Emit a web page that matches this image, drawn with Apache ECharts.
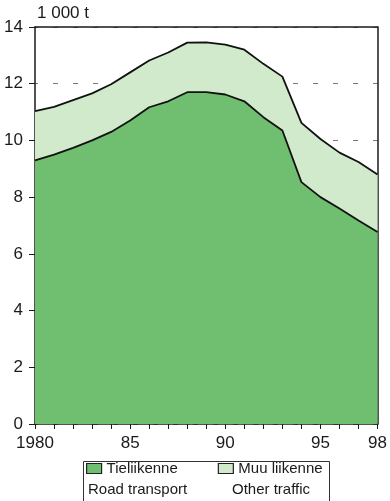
<!DOCTYPE html>
<html>
<head>
<meta charset="utf-8">
<script src="https://cdn.jsdelivr.net/npm/echarts@6/dist/echarts.min.js"></script>
<style>
html,body{margin:0;padding:0;background:#fff;}
#chart{width:390px;height:501px;}
</style>
</head>
<body>
<div id="chart"></div>
<script>
var years = ['1980','1981','1982','1983','1984','1985','1986','1987','1988','1989','1990','1991','1992','1993','1994','1995','1996','1997','1998'];
var roadTransport = [9.3,9.5,9.74,10.0,10.3,10.7,11.17,11.38,11.7,11.7,11.62,11.38,10.82,10.35,8.53,8.0,7.6,7.18,6.77];
var otherTraffic = [1.73,1.68,1.68,1.66,1.68,1.7,1.65,1.72,1.75,1.76,1.76,1.82,1.88,1.9,2.09,2.05,1.97,2.06,2.03];
var yTicks = [0,2,4,6,8,10,12,14];
var xLabelYears = ['1980','1985','1990','1995','1998'];
var xLabelTexts = ['1980','85','90','95','98'];
var seriesNames = ['Tieliikenne','Muu liikenne'];
var seriesNamesEn = ['Road transport','Other traffic'];
var unitLabel = '1 000 t';

var FONT = '"Liberation Sans", Arial, Helvetica, sans-serif';
var ROAD_COLOR = '#70be6f';
var OTHER_COLOR = '#d1eacb';

var chart = echarts.init(document.getElementById('chart'), null, {renderer:'canvas'});
chart.setOption({
  animation:false,
  backgroundColor:'#fff',
  grid:{left:35, right:9, top:27, bottom:77, containLabel:false},
  xAxis:[{
    type:'category', data:years, boundaryGap:false,
    axisLine:{show:true, onZero:false, lineStyle:{color:'#1a1a1a', width:1.5}},
    axisTick:{show:true, inside:false, length:5, interval:0, lineStyle:{color:'#1a1a1a', width:1}},
    axisLabel:{
      margin:11, color:'#1a1a1a', fontSize:17, fontFamily:FONT,
      interval:function(i, v){ return xLabelYears.indexOf(v) >= 0; },
      formatter:function(v){ var k = xLabelYears.indexOf(v); return k>=0 ? xLabelTexts[k] : ''; }
    },
    splitLine:{show:false}
  },{
    type:'category', data:years, boundaryGap:false, position:'top',
    axisLine:{show:true, onZero:false, lineStyle:{color:'#1a1a1a', width:1.5}},
    axisTick:{show:false}, axisLabel:{show:false}, splitLine:{show:false}
  }],
  yAxis:[{
    type:'value', min:0, max:14, interval:2,
    name:unitLabel, nameLocation:'end', nameGap:5,
    nameTextStyle:{align:'left', verticalAlign:'bottom', color:'#1a1a1a', fontSize:17, fontFamily:FONT, padding:[0,0,0,2]},
    axisLine:{show:true, lineStyle:{color:'#1a1a1a', width:1.5}},
    axisTick:{show:true, inside:false, length:6, lineStyle:{color:'#1a1a1a', width:1}},
    axisLabel:{margin:12, color:'#1a1a1a', fontSize:17, fontFamily:FONT,
      formatter:function(v){ return yTicks.indexOf(v)>=0 ? String(v) : ''; }},
    splitLine:{show:true, lineStyle:{color:'#777', width:1, type:[5,15], dashOffset:2}}
  },{
    type:'value', position:'right', min:0, max:14,
    axisLine:{show:true, lineStyle:{color:'#1a1a1a', width:1.5}},
    axisTick:{show:false}, axisLabel:{show:false}, splitLine:{show:false}
  }],
  legend:{
    left:86, top:461, padding:0, itemGap:40,
    itemWidth:15, itemHeight:10, icon:'rect',
    data:seriesNames,
    textStyle:{color:'#1a1a1a', fontSize:15, fontFamily:FONT, lineHeight:15},
    itemStyle:{borderColor:'#222', borderWidth:1.2}
  },
  graphic:[
    {type:'rect', left:81, top:459, shape:{width:246, height:50}, style:{fill:'none', stroke:'#333', lineWidth:1}, z:1},
    {type:'text', left:88, top:482, style:{text:seriesNamesEn[0], font:'15px '+FONT, fill:'#1a1a1a'}},
    {type:'text', left:232, top:482, style:{text:seriesNamesEn[1], font:'15px '+FONT, fill:'#1a1a1a'}}
  ],
  series:[
    {
      name:seriesNames[0], type:'line', stack:'total', data:roadTransport,
      symbol:'none', smooth:false,
      lineStyle:{color:'#111', width:1.8},
      itemStyle:{color:ROAD_COLOR},
      areaStyle:{color:ROAD_COLOR, opacity:1}
    },
    {
      name:seriesNames[1], type:'line', stack:'total', data:otherTraffic,
      symbol:'none', smooth:false,
      lineStyle:{color:'#111', width:1.8},
      itemStyle:{color:OTHER_COLOR},
      areaStyle:{color:OTHER_COLOR, opacity:1}
    }
  ]
});
</script>
</body>
</html>
